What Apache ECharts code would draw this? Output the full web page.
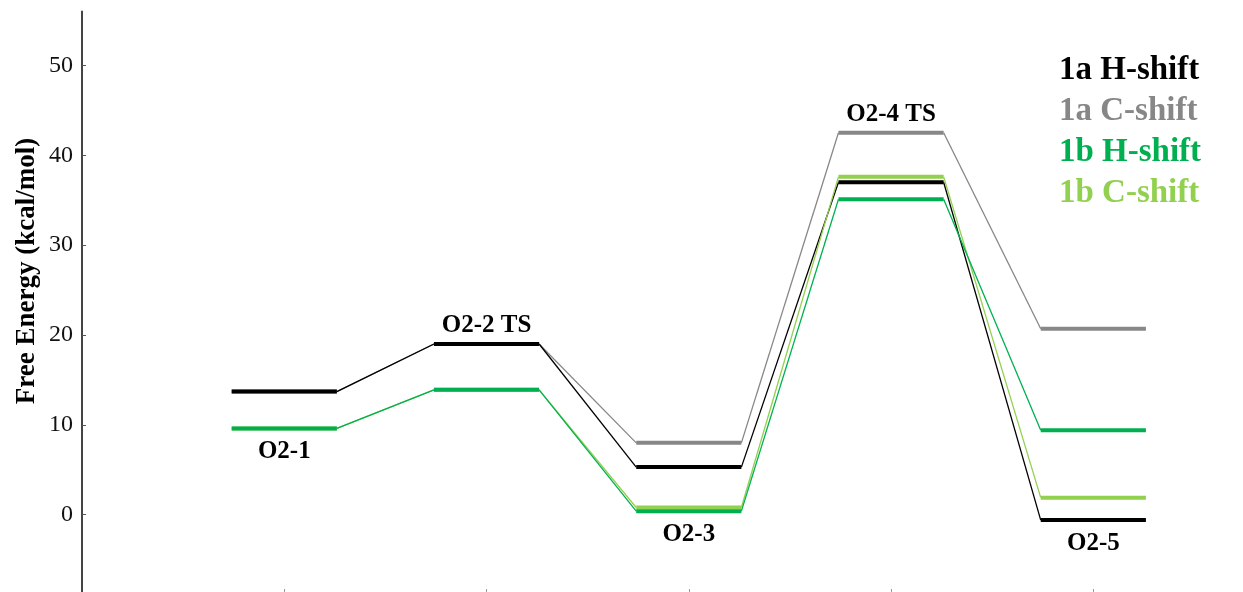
<!DOCTYPE html>
<html>
<head>
<meta charset="utf-8">
<script src="https://cdn.jsdelivr.net/npm/echarts@6/dist/echarts.min.js"></script>
<style>
    html, body { margin: 0; padding: 0; background: #fff; }
    #main { width: 1243px; height: 592px; }
</style>
</head>
<body>
<div id="main"></div>
<script>
// stages along the reaction coordinate
var stages = ['O2-1', 'O2-2 TS', 'O2-3', 'O2-4 TS', 'O2-5'];
var yTicks = [0, 10, 20, 30, 40, 50];

// free energies (kcal/mol), one value per stage
var h1a = [13.7, 19.0, 5.3, 37.0, -0.6];
var c1a = [13.7, 19.0, 8.0, 42.5, 20.7];
var h1b = [9.6, 13.9, 0.4, 35.1, 9.4];
var c1b = [9.6, 13.9, 0.8, 37.6, 1.9];

var labelSide = ['below', 'above', 'below', 'above', 'below'];

var HALF = 0.26;   // half width of a level, in stage units
var FONT = '"Liberation Serif", "Times New Roman", serif';

function levelSeries(name, values, color) {
    return {
        name: name,
        type: 'custom',
        color: color,
        silent: true,
        encode: { x: 0, y: 1 },
        data: values.map(function (v, i) { return [i + 1, v]; }),
        renderItem: function (params, api) {
            var i = params.dataIndex;
            var x = api.value(0), e = api.value(1);
            var a = api.coord([x - HALF, e]);
            var b = api.coord([x + HALF, e]);
            var children = [];
            if (i + 1 < values.length) {
                var c = api.coord([x + 1 - HALF, values[i + 1]]);
                children.push({
                    type: 'line',
                    shape: { x1: b[0], y1: b[1], x2: c[0], y2: c[1] },
                    style: { stroke: color, lineWidth: 1.3 }
                });
            }
            children.push({
                type: 'line',
                shape: { x1: a[0], y1: a[1], x2: b[0], y2: b[1] },
                style: { stroke: color, lineWidth: 4 }
            });
            return { type: 'group', children: children };
        }
    };
}

var allSets = [h1a, c1a, h1b, c1b];
var labelData = stages.map(function (s, i) {
    var col = allSets.map(function (arr) { return arr[i]; });
    var e = labelSide[i] === 'above' ? Math.max.apply(null, col) : Math.min.apply(null, col);
    return [i + 1, e];
});

var myChart = echarts.init(document.getElementById('main'));
var option = {
    animation: false,
    grid: {
        left: 82,
        right: 0,
        top: 11.5,
        bottom: 0,
        outerBoundsMode: 'none'
    },
    legend: {
        orient: 'vertical',
        left: 1049,
        top: 45,
        icon: 'none',
        itemWidth: 0,
        itemHeight: 0,
        itemGap: 0,
        selectedMode: false,
        textStyle: {
            fontFamily: FONT,
            fontWeight: 'bold',
            fontSize: 33,
            lineHeight: 41
        },
        data: [
            { name: '1a H-shift', textStyle: { color: '#000000' } },
            { name: '1a C-shift', textStyle: { color: '#878787' } },
            { name: '1b H-shift', textStyle: { color: '#00b050' } },
            { name: '1b C-shift', textStyle: { color: '#92d050' } }
        ]
    },
    graphic: [
        {
            type: 'text',
            x: 27,
            y: 271,
            rotation: Math.PI / 2,
            style: {
                text: 'Free Energy (kcal/mol)',
                font: 'bold 27px ' + FONT,
                fill: '#000',
                align: 'center',
                verticalAlign: 'middle'
            }
        }
    ],
    xAxis: {
        type: 'value',
        min: 0,
        max: 5.74,
        axisLine: { show: false, onZero: false },
        splitLine: { show: false },
        axisLabel: { show: false },
        axisTick: {
            show: true,
            inside: true,
            length: 3,
            customValues: stages.map(function (s, i) { return i + 1; }),
            lineStyle: { color: '#999' }
        }
    },
    yAxis: {
        type: 'value',
        min: -8.6,
        max: 56,
        splitLine: { show: false },
        axisLine: { show: true, lineStyle: { color: '#444', width: 2 } },
        axisTick: {
            show: true,
            inside: true,
            length: 4,
            customValues: yTicks,
            lineStyle: { color: '#555' }
        },
        axisLabel: {
            customValues: yTicks,
            fontFamily: FONT,
            fontSize: 24,
            color: '#111',
            margin: 9
        }
    },
    series: [
        levelSeries('1a C-shift', c1a, '#878787'),
        levelSeries('1a H-shift', h1a, '#000000'),
        levelSeries('1b C-shift', c1b, '#92d050'),
        levelSeries('1b H-shift', h1b, '#00b050'),
        {
            name: 'labels',
            type: 'custom',
            silent: true,
            encode: { x: 0, y: 1 },
            data: labelData,
            renderItem: function (params, api) {
                var i = params.dataIndex;
                var p = api.coord([api.value(0), api.value(1)]);
                return {
                    type: 'text',
                    x: p[0],
                    y: p[1] + (labelSide[i] === 'above' ? -18 : 23),
                    style: {
                        text: stages[i],
                        font: 'bold 25px ' + FONT,
                        fill: '#000',
                        align: 'center',
                        verticalAlign: 'middle'
                    }
                };
            }
        }
    ]
};

option && myChart.setOption(option);
</script>
</body>
</html>
